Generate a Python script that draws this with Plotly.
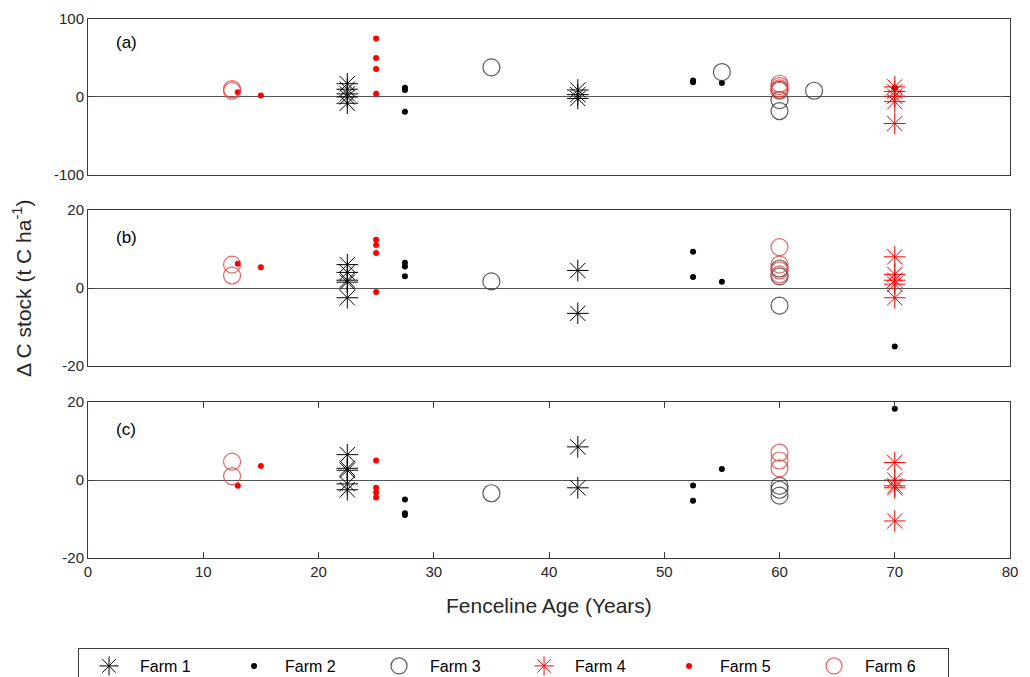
import plotly.graph_objects as go

# ---------------- data ----------------
FARMS = ["Farm 1", "Farm 2", "Farm 3", "Farm 4", "Farm 5", "Farm 6"]

# Panel (a)
F1_X_A = [22.5, 22.5, 22.5, 22.5, 22.5, 42.5, 42.5, 42.5]
F1_Y_A = [17, 10, 4, 0, -8, 9, 3, -2]
F2_X_A = [27.5, 27.5, 27.5, 52.5, 52.5, 55, 70]
F2_Y_A = [12, 9, -19, 21, 19, 18, 12]
F3_X_A = [35, 55, 60, 60, 60, 63]
F3_Y_A = [38, 32, 9, -4, -18, 8]
F4_X_A = [70, 70, 70, 70, 70]
F4_Y_A = [13, 7, 1, -6, -34]
F5_X_A = [13, 15, 25, 25, 25, 25]
F5_Y_A = [6, 2, 75, 50, 36, 4]
F6_X_A = [12.5, 12.5, 60, 60, 60, 60]
F6_Y_A = [10, 8, 17, 14, 11, 8]

# Panel (b)
F1_X_B = [22.5, 22.5, 22.5, 22.5, 22.5, 42.5, 42.5]
F1_Y_B = [6, 4, 2, 1.5, -2.5, 4.5, -6.5]
F2_X_B = [27.5, 27.5, 27.5, 52.5, 52.5, 55, 70]
F2_Y_B = [6.5, 5.5, 3, 9.3, 2.8, 1.6, -15]
F3_X_B = [35, 60, 60, 60]
F3_Y_B = [1.7, 5, 3, -4.5]
F4_X_B = [70, 70, 70, 70, 70]
F4_Y_B = [8, 3.5, 2, 1, -2.5]
F5_X_B = [13, 15, 25, 25, 25, 25]
F5_Y_B = [6.2, 5.3, 12.4, 11, 9, -1]
F6_X_B = [12.5, 12.5, 60, 60, 60, 60]
F6_Y_B = [6, 3.2, 10.5, 6, 4.5, 3.5]

# Panel (c)
F1_X_C = [22.5, 22.5, 22.5, 22.5, 22.5, 42.5, 42.5]
F1_Y_C = [6.5, 3, 2.5, -1, -2.5, 8.5, -2]
F2_X_C = [27.5, 27.5, 27.5, 52.5, 52.5, 55, 70]
F2_Y_C = [-5, -8.5, -9, -1.4, -5.3, 2.8, 18.3]
F3_X_C = [35, 60, 60, 60]
F3_Y_C = [-3.4, -1.5, -2.5, -4]
F4_X_C = [70, 70, 70, 70, 70]
F4_Y_C = [4.5, 0, -1.5, -2, -10.5]
F5_X_C = [13, 15, 25, 25, 25, 25]
F5_Y_C = [-1.5, 3.6, 5, -2, -3.2, -4.5]
F6_X_C = [12.5, 12.5, 60, 60, 60]
F6_Y_C = [4.7, 1, 7, 5, 3]

X_TICKS = [0, 10, 20, 30, 40, 50, 60, 70, 80]
Y_TICKS_A = [-100, 0, 100]
Y_TICKTEXT_A = ["-100", "0", "100"]
Y_TICKS_BC = [-20, 0, 20]
Y_TICKTEXT_BC = ["-20", "0", "20"]
PANEL_LABELS = ["(a)", "(b)", "(c)"]

# ---------------- styles ----------------
STYLES = [
    dict(symbol="asterisk-open", size=18, color="black", line=dict(color="black", width=1)),
    dict(symbol="circle", size=6, color="black"),
    dict(symbol="circle-open", size=17, color="rgba(60,60,60,0.85)", line=dict(color="rgba(60,60,60,0.85)", width=1.2)),
    dict(symbol="asterisk-open", size=18, color="red", line=dict(color="red", width=1)),
    dict(symbol="circle", size=6, color="red"),
    dict(symbol="circle-open", size=17, color="rgba(228,70,70,0.85)", line=dict(color="rgba(228,70,70,0.85)", width=1.2)),
]

PANELS = [
    [(F1_X_A, F1_Y_A), (F2_X_A, F2_Y_A), (F3_X_A, F3_Y_A), (F4_X_A, F4_Y_A), (F5_X_A, F5_Y_A), (F6_X_A, F6_Y_A)],
    [(F1_X_B, F1_Y_B), (F2_X_B, F2_Y_B), (F3_X_B, F3_Y_B), (F4_X_B, F4_Y_B), (F5_X_B, F5_Y_B), (F6_X_B, F6_Y_B)],
    [(F1_X_C, F1_Y_C), (F2_X_C, F2_Y_C), (F3_X_C, F3_Y_C), (F4_X_C, F4_Y_C), (F5_X_C, F5_Y_C), (F6_X_C, F6_Y_C)],
]

fig = go.Figure()
axnames = ["", "2", "3"]
for p, panel in enumerate(PANELS):
    for f, (xs, ys) in enumerate(panel):
        fig.add_trace(go.Scatter(
            x=xs, y=ys, mode="markers", name=FARMS[f],
            marker=STYLES[f], legendgroup=FARMS[f], showlegend=(p == 0),
            xaxis="x" + axnames[p], yaxis="y" + axnames[p],
        ))

FONT = "Liberation Sans, Arial, Helvetica, sans-serif"
TXT = "#262626"
BOX = "#3a3a3a"

domains = [[0.7106, 1.0], [0.3562, 0.6456], [0.0, 0.2894]]
layout = dict(
    width=1030, height=677,
    paper_bgcolor="white", plot_bgcolor="white",
    margin=dict(l=88, r=20, t=19, b=119, autoexpand=False),
    font=dict(family=FONT, color=TXT, size=15),
    showlegend=True,
    legend=dict(
        orientation="h", x=-0.0108, y=-0.167, xanchor="left", yanchor="top",
        xref="paper", yref="paper",
        bordercolor=BOX, borderwidth=1, bgcolor="white",
        font=dict(family=FONT, size=16, color="black"),
        entrywidth=78, entrywidthmode="pixels", itemwidth=52,
        tracegroupgap=0,
    ),
)
for p in range(3):
    n = axnames[p]
    layout["xaxis" + n] = dict(
        domain=[0, 1], range=[0, 80], anchor="y" + n,
        showline=True, linecolor=BOX, linewidth=1, mirror=("ticks" if p == 2 else True),
        showgrid=False, zeroline=False,
        tickvals=X_TICKS, ticks=("inside" if p == 2 else ""), ticklen=6, tickcolor=BOX,
        showticklabels=(p == 2), tickfont=dict(size=15, color=TXT),
    )
    layout["yaxis" + n] = dict(
        domain=domains[p], range=([-100, 100] if p == 0 else [-20, 20]), anchor="x" + n,
        showline=True, linecolor=BOX, linewidth=1, mirror="ticks",
        showgrid=False, zeroline=True, zerolinecolor="#555555", zerolinewidth=1,
        tickvals=(Y_TICKS_A if p == 0 else Y_TICKS_BC),
        ticktext=(Y_TICKTEXT_A if p == 0 else Y_TICKTEXT_BC),
        ticks="inside", ticklen=6, tickcolor=BOX,
        tickfont=dict(size=15, color=TXT),
    )
fig.update_layout(**layout)

# panel labels
label_y = [0.957, 0.595, 0.238]
for p in range(3):
    fig.add_annotation(text=PANEL_LABELS[p], xref="paper", yref="paper",
                       x=0.028, y=label_y[p], xanchor="left", yanchor="middle",
                       showarrow=False, font=dict(size=17, color="black", family=FONT))

# axis titles
fig.add_annotation(text="Δ C stock (t C ha<sup>-1</sup>)", xref="paper", yref="paper",
                   x=-0.072, y=0.50, xanchor="center", yanchor="middle", textangle=-90,
                   showarrow=False, font=dict(size=21, color=TXT, family=FONT))
fig.add_annotation(text="Fenceline Age (Years)", xref="paper", yref="paper",
                   x=0.5, y=-0.089, xanchor="center", yanchor="middle",
                   showarrow=False, font=dict(size=21, color=TXT, family=FONT))

fig.write_html("out.html", config={"displayModeBar": False},
               post_script="document.body.style.margin='0px';")
